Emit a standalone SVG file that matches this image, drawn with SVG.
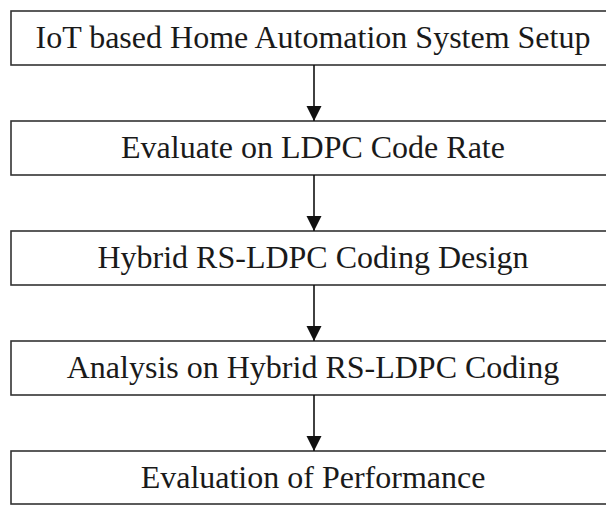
<svg xmlns="http://www.w3.org/2000/svg" width="606" height="505" viewBox="0 0 606 505">
<defs>
<style>
.box{fill:#fff;stroke:#333;stroke-width:1.6}
.lbl{font-family:"Liberation Serif","Times New Roman",serif;font-size:32px;fill:#1a1a1a;text-anchor:middle}
.conn{stroke:#111;stroke-width:1.6;fill:none}
</style>
<marker id="ah" markerUnits="userSpaceOnUse" markerWidth="16" markerHeight="17" refX="15" refY="8" orient="auto">
<path d="M0,0.5 L15,8 L0,15.5 Z" fill="#111"/>
</marker>
</defs>
<rect width="606" height="505" fill="#fff"/>
<g id="n1"><rect class="box" x="11" y="11" width="600" height="54"/><text class="lbl" x="313" y="48">IoT based Home Automation System Setup</text></g>
<g id="n2"><rect class="box" x="11" y="121" width="600" height="54"/><text class="lbl" x="313" y="158">Evaluate on LDPC Code Rate</text></g>
<g id="n3"><rect class="box" x="11" y="231" width="600" height="54"/><text class="lbl" x="313" y="268">Hybrid RS-LDPC Coding Design</text></g>
<g id="n4"><rect class="box" x="11" y="341" width="600" height="54"/><text class="lbl" x="313" y="378">Analysis on Hybrid RS-LDPC Coding</text></g>
<g id="n5"><rect class="box" x="11" y="451" width="600" height="53"/><text class="lbl" x="313" y="488">Evaluation of Performance</text></g>
<g id="connectors">
<line class="conn" x1="314" y1="65" x2="314" y2="121" marker-end="url(#ah)"/>
<line class="conn" x1="314" y1="175" x2="314" y2="231" marker-end="url(#ah)"/>
<line class="conn" x1="314" y1="285" x2="314" y2="341" marker-end="url(#ah)"/>
<line class="conn" x1="314" y1="395" x2="314" y2="451" marker-end="url(#ah)"/>
</g>
</svg>
